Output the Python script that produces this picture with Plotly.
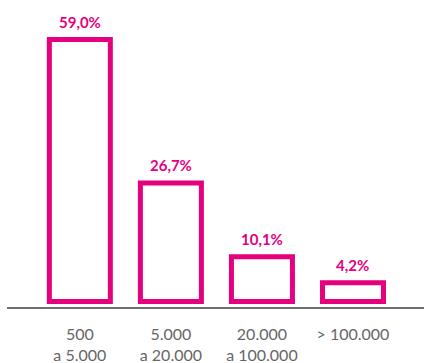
import plotly.graph_objects as go

categories = ["500<br>a 5.000", "5.000<br>a 20.000", "20.000<br>a 100.000", "> 100.000"]
values = [59.0, 26.7, 10.1, 4.2]
labels = [f"{v:.1f}%".replace(".", ",") for v in values]

MAGENTA = "#E5007E"

fig = go.Figure(go.Bar(
    x=categories,
    y=values,
    marker=dict(color="white", line=dict(color=MAGENTA, width=5)),
    width=0.67,
    cliponaxis=False,
))

for c, v, t in zip(categories, values, labels):
    fig.add_annotation(
        x=c, y=v, text=f"<b>{t}</b>", showarrow=False,
        yanchor="bottom", yshift=7,
        font=dict(family="Lato", size=15, color=MAGENTA),
    )

fig.update_layout(
    width=424, height=363,
    margin=dict(l=7, r=0, t=0, b=56),
    paper_bgcolor="white", plot_bgcolor="white",
    showlegend=False,
    xaxis=dict(
        type="category",
        range=[-0.8, 3.78],
        showline=True, linecolor="#6e6e6e", linewidth=2,
        showgrid=False, ticks="",
        ticklabelstandoff=12,
        tickfont=dict(family="Lato", size=16, color="#666666"),
    ),
    yaxis=dict(range=[-1.24, 67.9], visible=False),
)

fig.write_html("out.html")
